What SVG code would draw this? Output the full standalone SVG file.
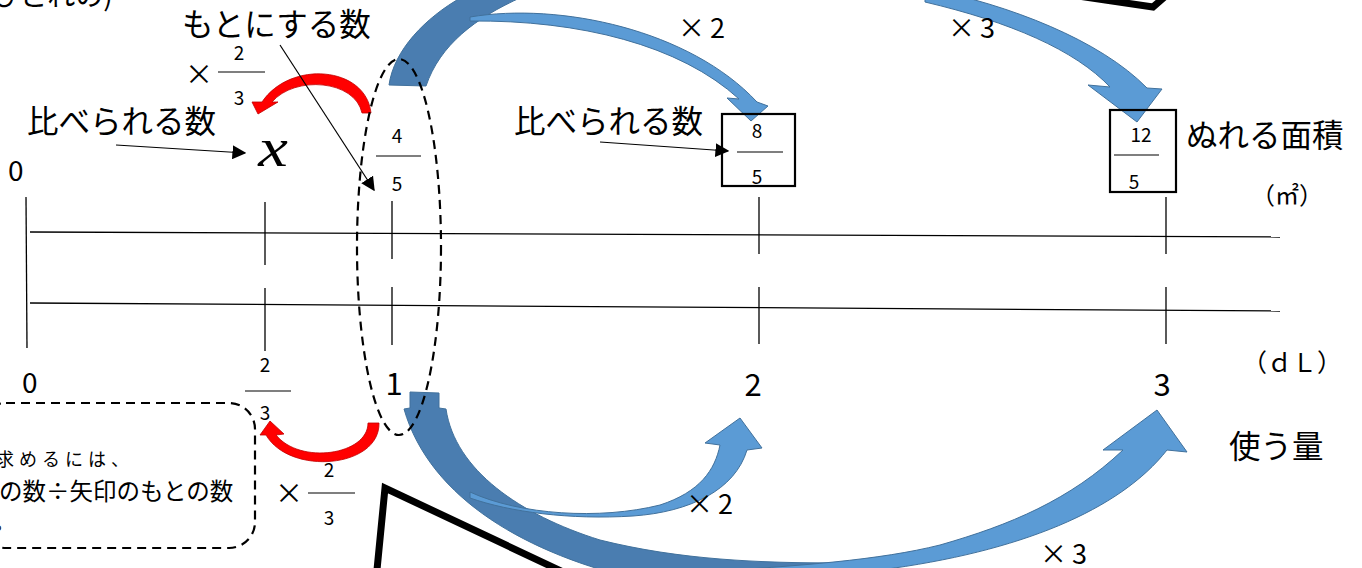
<svg xmlns="http://www.w3.org/2000/svg" width="1362" height="568" viewBox="0 0 1362 568">
<style>
text{font-family:"Noto Sans CJK JP","Liberation Sans",sans-serif;fill:#000}
.jp{font-size:31.5px}
.num{font-size:19px;text-anchor:middle}
.lbl{font-size:31px;text-anchor:middle}
.mul{font-size:27px;letter-spacing:5px}
.ln{stroke:#000;stroke-width:1.3;fill:none}
.thin{stroke:#000;stroke-width:1.2;fill:none}
.dash{stroke:#000;stroke-width:2.2;fill:none;stroke-dasharray:9 6}
.dark{fill:#4a7db0;stroke:#41719c;stroke-width:1}
.light{fill:#5b9bd5;stroke:#41719c;stroke-width:1}
.red{fill:#ff0000;stroke:#c00000;stroke-width:0.8}
.blk{stroke:#000;stroke-width:7;fill:none;stroke-linejoin:miter}
</style>
<defs>
<marker id="ah" viewBox="0 0 10 10" refX="9" refY="5" markerWidth="14" markerHeight="14" markerUnits="userSpaceOnUse" orient="auto">
<path d="M0,0 L10,5 L0,10 Z" fill="#000"/>
</marker>
</defs>
<rect width="1362" height="568" fill="#fff"/>

<!-- decorative black frames -->
<polyline class="blk" points="376,580 385,488 580,580"/>
<polyline class="blk" points="1078,-4 1153,7 1168,-6"/>

<!-- number lines -->
<g id="lines">
<line class="ln" x1="30" y1="232" x2="1280" y2="237"/>
<line class="ln" x1="30" y1="303" x2="1280" y2="311"/>
<line class="ln" x1="26" y1="197" x2="27" y2="348"/>
<line class="ln" x1="265" y1="202" x2="265" y2="265"/>
<line class="ln" x1="265" y1="288" x2="265" y2="351"/>
<line class="ln" x1="392" y1="201" x2="392" y2="259"/>
<line class="ln" x1="392" y1="287" x2="392" y2="345"/>
<line class="ln" x1="759" y1="197" x2="759" y2="254"/>
<line class="ln" x1="759" y1="287" x2="759" y2="344"/>
<line class="ln" x1="1166" y1="197" x2="1166" y2="254"/>
<line class="ln" x1="1166" y1="287" x2="1166" y2="344"/>
</g>

<!-- top-left clipped text -->
<text x="-8" y="6" style="font-size:28px">ひとれの)</text>

<!-- dashed note box -->
<g id="note">
<rect class="dash" x="-20" y="403" width="275" height="145" rx="26"/>
<text x="-4" y="466" style="font-size:18px;letter-spacing:5px">求めるには、</text>
<text x="-1" y="500" style="font-size:23.5px">の数÷矢印のもとの数</text>
<text x="-6" y="530" style="font-size:20px">。</text>
</g>

<!-- blue arrows -->
<g id="connectors">
<path class="dark" d="M389,85 C394,50 425,18 462,-3 L522,-3 C475,18 440,45 426,86 Z"/>
<path class="light" d="M470,17 C560,2 690,30 757,102 L768,106 L751,121 L727,98 L739,99 C680,45 580,20 470,21 Z"/>
<path class="light" d="M925,-12 C1010,5 1100,40 1147,88 L1162,89 L1137,122 L1088,85 L1110,87 C1075,50 1010,22 925,2 Z"/>
<path class="dark" d="M410,392 L439,393 L439,408 L446,409 C455,470 520,515 600,540 C680,560 760,563 840,563 L840,580 L640,580 C530,555 430,500 404,409 L410,408 Z"/>
<path class="light" d="M470,492 C520,515 600,520 660,505 C700,492 715,470 720,445 L705,443 L740,418 L762,448 L747,450 C735,490 690,512 633,516 C570,520 510,512 470,498 Z"/>
<path class="light" d="M700,572 C800,566 880,560 940,545 C1010,525 1070,500 1123,450 L1103,450 L1157,410 L1187,452 L1167,450 C1120,510 1020,552 880,570 L760,580 L700,580 Z"/>
<path class="red" d="M362,113 C355,80 295,75 272,102 L278,102 L258,114 L252,102 L262,102 C290,60 366,66 371,113 Z"/>
<path class="red" d="M368,423 C368,455 300,465 276,435 L284,434 L270,421 L260,435 L266,435 C290,476 380,468 379,423 Z"/>
<ellipse class="dash" cx="399" cy="247" rx="42" ry="188"/>
<line class="thin" x1="280" y1="45" x2="374" y2="190" marker-end="url(#ah)"/>
<line class="thin" x1="116" y1="145" x2="245" y2="153" marker-end="url(#ah)"/>
<line class="thin" x1="600" y1="142" x2="728" y2="151" marker-end="url(#ah)"/>
</g>

<!-- labels -->
<g id="n-moto"><text class="jp" x="182" y="36" style="font-size:31.5px">もとにする数</text></g>
<g id="n-times-top">
<text x="185" y="85" style="font-size:28px">×</text>
<text class="num" x="239" y="60">2</text>
<line class="thin" x1="218" y1="72" x2="265" y2="72"/>
<text class="num" x="239" y="105">3</text>
</g>
<g id="n-hikaku1"><text class="jp" x="27" y="133">比べられる数</text></g>
<g id="n-x"><text x="0" y="0" transform="translate(273,166) scale(1.45,1.2)" style="font-family:'Liberation Serif',serif;font-size:46px;font-style:italic;text-anchor:middle">x</text></g>
<g id="n-45">
<text class="num" x="397" y="143">4</text>
<line class="thin" x1="376" y1="156" x2="421" y2="156"/>
<text class="num" x="397" y="191">5</text>
</g>
<g id="n-hikaku2"><text class="jp" x="514" y="133">比べられる数</text></g>
<g id="n-85">
<rect x="722" y="114" width="73" height="72" fill="none" stroke="#000" stroke-width="2.2"/>
<text class="num" x="757" y="138">8</text>
<line class="thin" x1="737" y1="152" x2="783" y2="152"/>
<text class="num" x="757" y="184">5</text>
</g>
<g id="n-125">
<rect x="1110" y="110" width="66" height="82" fill="none" stroke="#000" stroke-width="2.2"/>
<text class="num" x="1141" y="142">12</text>
<line class="thin" x1="1114" y1="155" x2="1159" y2="155"/>
<text class="num" x="1134" y="189">5</text>
</g>
<g id="n-nureru"><text class="jp" x="1186" y="147">ぬれる面積</text></g>
<g id="n-m2"><text x="1251" y="204" style="font-size:24px">（㎡）</text></g>
<g id="n-x2top"><text class="mul" x="678" y="38">×2</text></g>
<g id="n-x3top"><text class="mul" x="948" y="38">×3</text></g>
<text x="8" y="181" style="font-size:28px">0</text>
<text x="22" y="393" style="font-size:28px">0</text>
<g id="n-23">
<text class="num" x="265" y="372">2</text>
<line class="thin" x1="245" y1="391" x2="291" y2="391"/>
<text class="num" x="265" y="420">3</text>
</g>
<text class="lbl" x="394" y="395">1</text>
<text class="lbl" x="753" y="396">2</text>
<text class="lbl" x="1162" y="396">3</text>
<g id="n-dl"><text x="1242" y="372" style="font-size:25px">（ｄＬ）</text></g>
<g id="n-tsukau"><text class="jp" x="1229" y="458">使う量</text></g>
<g id="n-times-bot">
<text x="275" y="504" style="font-size:28px">×</text>
<text class="num" x="329" y="477">2</text>
<line class="thin" x1="308" y1="493" x2="355" y2="493"/>
<text class="num" x="329" y="525">3</text>
</g>
<g id="n-x2bot"><text class="mul" x="686" y="514">×2</text></g>
<g id="n-x3bot"><text class="mul" x="1040" y="564">×3</text></g>
</svg>
